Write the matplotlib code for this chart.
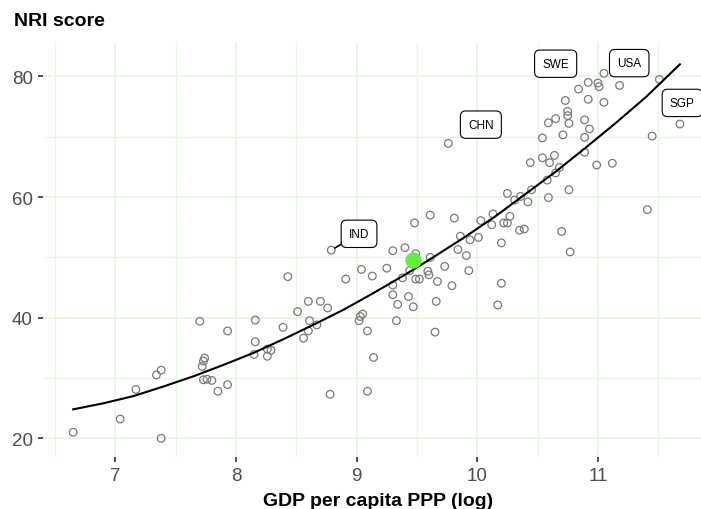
import matplotlib
matplotlib.use("Agg")
import matplotlib.pyplot as plt
from matplotlib.ticker import MultipleLocator

plt.rcParams['font.family'] = ['Liberation Sans', 'DejaVu Sans']

# countries: log GDP per capita (PPP) vs NRI score
gdp_log = [6.65, 7.04, 7.38, 7.17, 7.34, 7.38, 7.70, 7.93, 8.16, 8.43,
           8.51, 7.74, 7.73, 7.72, 7.73, 7.76, 7.80, 7.85, 7.93, 8.16,
           8.15, 8.26, 8.29, 8.26, 8.39, 8.56, 8.79, 8.60, 8.70, 8.76,
           8.61, 8.60, 8.67, 8.91, 9.04, 9.13, 9.25, 9.30, 9.40, 9.30,
           9.30, 9.34, 9.43, 9.47, 9.38, 9.44, 9.49, 9.52, 9.33, 9.02,
           9.03, 9.05, 9.09, 9.14, 8.78, 9.09, 9.49, 9.61, 9.86, 9.94,
           10.01, 9.84, 9.91, 10.20, 10.35, 10.39, 9.73, 9.59, 9.60, 9.67,
           9.79, 9.93, 10.20, 9.66, 10.17, 9.65, 9.76, 9.61, 9.81, 10.03,
           10.13, 10.12, 10.22, 10.25, 10.27, 10.25, 10.31, 10.36, 10.42, 10.45,
           10.59, 10.58, 10.65, 10.68, 10.44, 10.54, 10.60, 10.64, 10.54, 10.71,
           10.59, 10.76, 10.65, 10.76, 10.70, 10.75, 10.75, 10.73, 10.84, 10.92,
           11.00, 11.01, 11.05, 10.92, 10.89, 10.93, 10.89, 10.89, 11.05, 10.99,
           11.12, 11.18, 11.51, 11.68, 11.45, 11.41, 10.77, 9.48]
nri = [21.0, 23.2, 20.0, 28.1, 30.5, 31.3, 39.4, 37.8, 39.6, 46.8,
       41.0, 33.3, 32.8, 31.9, 29.7, 29.8, 29.6, 27.8, 28.9, 36.0,
       33.9, 34.8, 34.6, 33.6, 38.4, 36.6, 51.2, 42.7, 42.7, 41.6,
       39.5, 37.8, 38.8, 46.4, 48.0, 46.9, 48.2, 51.1, 51.6, 45.4,
       43.8, 42.2, 43.5, 41.8, 46.6, 47.8, 46.4, 46.4, 39.5, 39.5,
       40.2, 40.6, 37.8, 33.4, 27.3, 27.8, 50.6, 50.0, 53.5, 52.9,
       53.3, 51.3, 50.3, 52.4, 54.5, 54.7, 48.5, 47.7, 47.1, 46.0,
       45.3, 47.8, 45.7, 42.7, 42.1, 37.6, 68.9, 57.0, 56.5, 56.1,
       57.2, 55.4, 55.7, 55.7, 56.8, 60.6, 59.5, 60.1, 59.2, 61.2,
       59.9, 62.8, 64.0, 64.9, 65.7, 66.5, 65.7, 66.9, 69.8, 70.3,
       72.3, 72.2, 73.0, 61.2, 54.3, 74.2, 73.5, 76.0, 77.9, 79.0,
       78.9, 78.3, 80.5, 76.2, 72.8, 71.3, 69.9, 67.4, 75.7, 65.3,
       65.6, 78.5, 79.5, 72.1, 70.1, 57.9, 50.9, 55.7]

# highlighted country
hl_x, hl_y = 9.47, 49.6

# fitted trend
fit_x = [6.65, 6.90, 7.15, 7.40, 7.65, 7.90, 8.15, 8.40, 8.65, 8.90, 9.15,
         9.40, 9.65, 9.90, 10.15, 10.40, 10.65, 10.90, 11.15, 11.40, 11.68]
fit_y = [24.8, 25.8, 27.0, 28.6, 30.3, 32.2, 34.2, 36.5, 38.9, 41.4, 44.2,
         47.1, 50.2, 53.4, 56.8, 60.5, 64.2, 68.2, 72.3, 76.6, 82.0]

# labels
lab_text = ['IND', 'CHN', 'SWE', 'USA', 'SGP']
lab_pt_x = [8.79, 9.76, 10.73, 11.05, 11.68]
lab_pt_y = [51.2, 68.9, 76.0, 80.5, 72.1]
lab_x = [9.02, 10.03, 10.65, 11.26, 11.70]
lab_y = [53.9, 72.0, 82.1, 82.2, 75.6]
lab_segment = [True, False, False, False, False]

fig = plt.figure(figsize=(7.01, 5.10), dpi=100)
ax = fig.add_axes([43 / 701, 52 / 510, 1 - 43 / 701, 415 / 510])

grid_col = '#e6f8e3'
ax.xaxis.set_major_locator(MultipleLocator(1))
ax.xaxis.set_minor_locator(MultipleLocator(0.5))
ax.yaxis.set_major_locator(MultipleLocator(20))
ax.yaxis.set_minor_locator(MultipleLocator(10))
ax.grid(which='major', color=grid_col, lw=1.3)
ax.grid(which='minor', color=grid_col, lw=1.0)
ax.set_axisbelow(True)
for s in ax.spines.values():
    s.set_visible(False)

ax.scatter(gdp_log, nri, s=30, facecolors='none', edgecolors='#7a7a7a', linewidths=0.9, zorder=3)
ax.plot(fit_x, fit_y, color='black', lw=1.5, zorder=4)
ax.scatter([hl_x], [hl_y], s=115, color='#63ee3c', zorder=5)

for t, px, py, tx, ty, seg in zip(lab_text, lab_pt_x, lab_pt_y, lab_x, lab_y, lab_segment):
    ax.annotate(t, xy=(px, py), xytext=(tx, ty), ha='center', va='center',
                fontsize=8.5, color='black', zorder=6,
                bbox=dict(boxstyle='round,pad=0.65,rounding_size=0.45', fc='white', ec='black', lw=0.8),
                arrowprops=dict(arrowstyle='-', color='black', lw=1.2, shrinkA=0, shrinkB=3) if seg else None)

ax.set_xlim(6.40, 11.855)
ax.set_ylim(16.9, 85.7)
ax.tick_params(which='major', length=3.8, width=1.2, color='#333333', labelsize=13.5,
               labelcolor='#4d4d4d', pad=3.6)
ax.tick_params(which='minor', length=0)

fig.text(14 / 701, 1 - 22 / 510, 'NRI score', fontsize=14, fontweight='bold', va='center', ha='left')
fig.text(378 / 701, 8 / 510, 'GDP per capita PPP (log)', fontsize=14, fontweight='bold', va='center', ha='center')

fig.savefig('out.png', dpi=100)
